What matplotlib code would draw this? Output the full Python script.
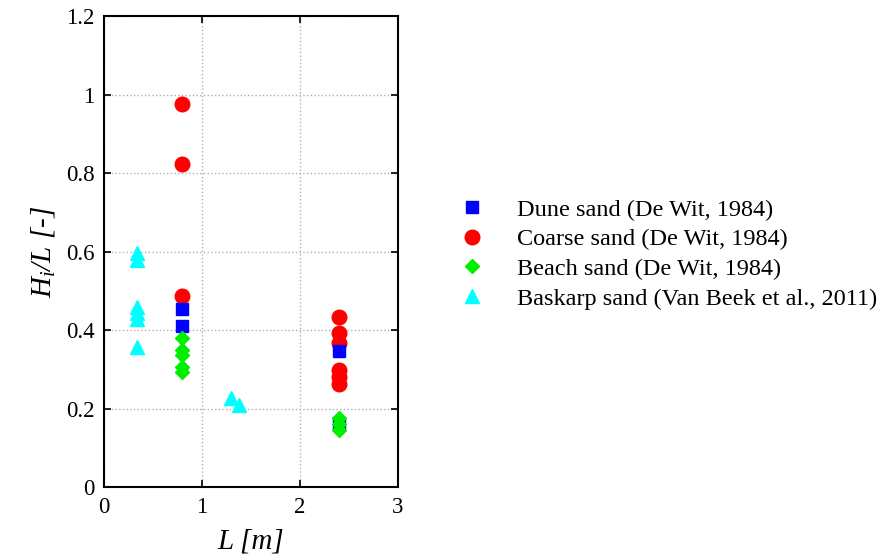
"""
H_i/L versus scale length L for the four sand types (De Wit 1984, Van Beek 2011).
Writes out.png.
"""

import matplotlib

matplotlib.use("Agg")
import matplotlib.pyplot as plt  # noqa: E402

# Dune sand (De Wit, 1984)
dune_L = [0.8, 0.8, 2.4, 2.4]
dune_H = [0.453, 0.41, 0.347, 0.163]

# Coarse sand (De Wit, 1984)
coarse_L = [0.8, 0.8, 0.8, 2.4, 2.4, 2.4, 2.4, 2.4, 2.4]
coarse_H = [0.976, 0.823, 0.487, 0.433, 0.392, 0.367, 0.298, 0.28, 0.262]

# Beach sand (De Wit, 1984)
beach_L = [0.8, 0.8, 0.8, 0.8, 0.8, 2.4, 2.4, 2.4]
beach_H = [0.38, 0.349, 0.337, 0.306, 0.293, 0.176, 0.16, 0.145]

# Baskarp sand (Van Beek et al., 2011)
baskarp_L = [0.34, 0.34, 0.34, 0.34, 0.34, 0.34, 1.3, 1.38]
baskarp_H = [0.596, 0.578, 0.459, 0.443, 0.428, 0.357, 0.227, 0.209]

X_TICKS = [0, 1, 2, 3]
Y_TICKS = [0, 0.2, 0.4, 0.6, 0.8, 1, 1.2]
Y_TICK_LABELS = ["0", "0.2", "0.4", "0.6", "0.8", "1", "1.2"]

plt.rcParams["font.family"] = ["Liberation Serif", "DejaVu Serif"]
plt.rcParams["mathtext.fontset"] = "custom"
plt.rcParams["mathtext.it"] = "Liberation Serif:italic"
plt.rcParams["mathtext.rm"] = "Liberation Serif:italic"

fig = plt.figure(figsize=(8.85, 5.55), dpi=100)
ax = fig.add_axes([0.1175, 0.1225, 0.332, 0.8485])

ax.plot(dune_L, dune_H, ls="none", marker="s", ms=8, color="#0000ff",
        label="Dune sand (De Wit, 1984)", zorder=3)
ax.plot(coarse_L, coarse_H, ls="none", marker="o", ms=10.5, color="#ff0000",
        label="Coarse sand (De Wit, 1984)", zorder=2)
ax.plot(beach_L, beach_H, ls="none", marker="D", ms=7.5, color="#00ee00",
        label="Beach sand (De Wit, 1984)", zorder=4)
ax.plot(baskarp_L, baskarp_H, ls="none", marker="^", ms=10, color="#00ffff",
        label="Baskarp sand (Van Beek et al., 2011)", zorder=3)

# matlab look: inward ticks on all four sides, dotted grey grid
ax.set_xlim(0, 3)
ax.set_ylim(0, 1.2)
ax.set_xticks(X_TICKS)
ax.set_yticks(Y_TICKS)
ax.set_yticklabels(Y_TICK_LABELS)
ax.tick_params(direction="in", top=True, right=True, length=5, width=1.2,
               labelsize=16.5, pad=7)
ax.grid(True, color="#b0b0b0", ls=":", lw=1)
ax.set_axisbelow(True)
for s in ax.spines.values():
    s.set_linewidth(1.5)

ax.set_xlabel("L [m]", fontsize=21, style="italic", labelpad=8)
ax.set_ylabel("$H_i$/L [-]", fontsize=21, style="italic", labelpad=6)

fig.legend(loc="center left", bbox_to_anchor=(0.5055, 0.542), frameon=False,
           fontsize=17.5, handlelength=1.2, handletextpad=1.27,
           labelspacing=0.31, borderaxespad=0)

fig.savefig("out.png", dpi=100)
